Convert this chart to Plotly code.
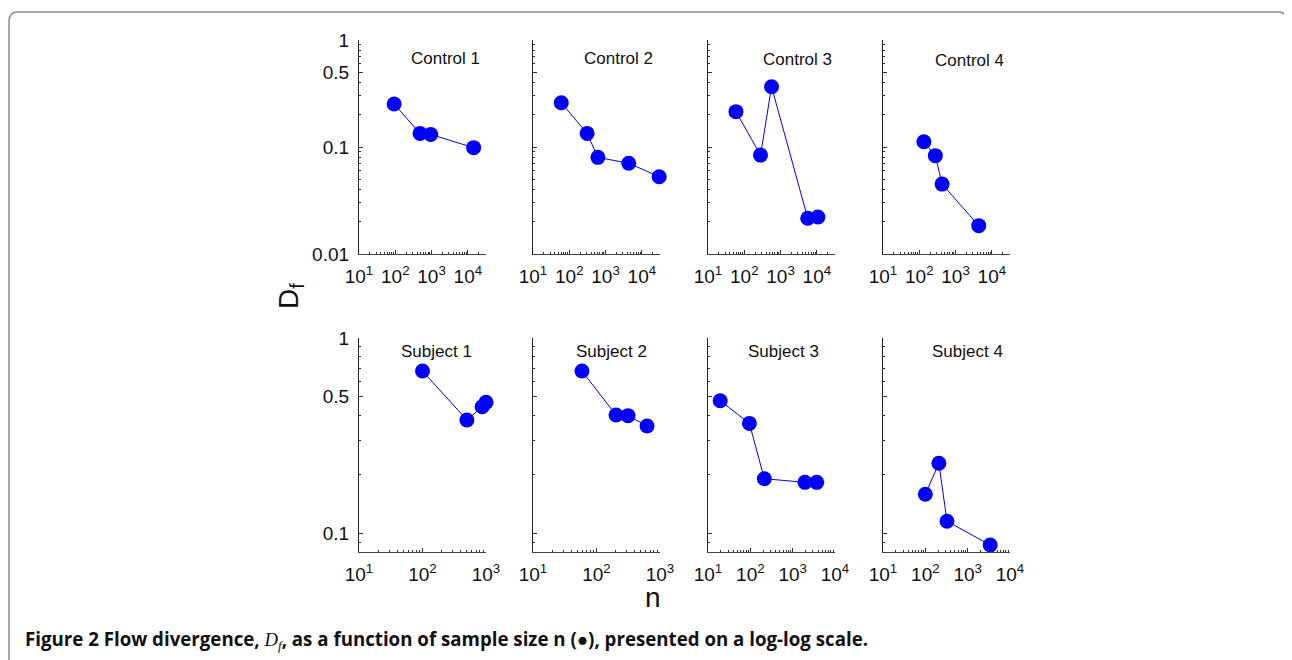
import plotly.graph_objects as go

# ---------------- data ----------------
panel_titles = ["Control 1", "Control 2", "Control 3", "Control 4",
                "Subject 1", "Subject 2", "Subject 3", "Subject 4"]

control1_n = [93, 480, 950, 14400]
control1_df = [0.252, 0.134, 0.131, 0.0986]
control2_n = [60, 310, 615, 4350, 30000]
control2_df = [0.259, 0.134, 0.080, 0.0704, 0.0528]
control3_n = [59, 280, 565, 5600, 10700]
control3_df = [0.214, 0.084, 0.366, 0.0216, 0.0222]
control4_n = [134, 277, 425, 4350]
control4_df = [0.112, 0.083, 0.045, 0.0184]
subject1_n = [100, 500, 870, 1000]
subject1_df = [0.677, 0.38, 0.444, 0.468]
subject2_n = [59, 203, 313, 625]
subject2_df = [0.677, 0.403, 0.40, 0.354]
subject3_n = [19.4, 95, 214, 1950, 3700]
subject3_df = [0.477, 0.365, 0.19, 0.182, 0.182]
subject4_n = [100, 209, 325, 3400]
subject4_df = [0.158, 0.228, 0.115, 0.0868]

series_n = [control1_n, control2_n, control3_n, control4_n,
            subject1_n, subject2_n, subject3_n, subject4_n]
series_df = [control1_df, control2_df, control3_df, control4_df,
             subject1_df, subject2_df, subject3_df, subject4_df]

top_y_ticks = [0.01, 0.1, 0.5, 1]
top_y_labels = ["0.01", "0.1", "0.5", "1"]
bottom_y_ticks = [0.1, 0.5, 1]
bottom_y_labels = ["0.1", "0.5", "1"]
x_ticks_4 = [10, 100, 1000, 10000]
x_labels_4 = ["10<sup>1</sup>", "10<sup>2</sup>", "10<sup>3</sup>", "10<sup>4</sup>"]
x_ticks_3 = [10, 100, 1000]
x_labels_3 = ["10<sup>1</sup>", "10<sup>2</sup>", "10<sup>3</sup>"]

# ---------------- layout geometry (window pixels) ----------------
OFF = 8                      # page body margin of the html page
W, H = 1292 - OFF, 660 - OFF
lefts = [359, 533, 708, 883]
pw = 127
rows = [(40, 254), (338, 552)]
x_ranges = [[1, 4.5]] * 4 + [[1, 3], [1, 3], [1, 4], [1, 4]]
y_ranges = [[-2, 0], [-1.097, 0]]
title_pos = [(445, 59), (618, 59), (797, 60), (969, 61),
             (436, 351), (611, 351), (783, 352), (967, 352)]

def px(x):
    return (x - OFF) / W

def py(y):
    return 1 - (y - OFF) / H

minor_x = [m * 10 ** k for k in range(1, 5) for m in range(2, 10)]
minor_y = [m * 10 ** k for k in range(-2, 0) for m in range(2, 10)]

fig = go.Figure()
layout = {}
BLUE = "rgb(0,0,255)"
TICKFONT = dict(family="Liberation Sans, Arial, sans-serif", size=19, color="#111")

for i in range(8):
    r = i // 4
    c = i % 4
    ax = "" if i == 0 else str(i + 1)
    fig.add_trace(go.Scatter(
        x=series_n[i], y=series_df[i], mode="lines+markers",
        line=dict(color=BLUE, width=1),
        marker=dict(color=BLUE, size=15, line=dict(width=0)),
        xaxis="x" + ax, yaxis="y" + ax, cliponaxis=False, showlegend=False,
    ))
    x0 = lefts[c]
    top, bot = rows[r]
    if r == 0 or c >= 2:
        xt, xl = x_ticks_4, x_labels_4
    else:
        xt, xl = x_ticks_3, x_labels_3
    layout["xaxis" + ax] = dict(
        type="log", range=x_ranges[i], domain=[px(x0), px(x0 + pw)],
        anchor="y" + ax, showgrid=False, zeroline=False, automargin=False,
        showline=True, linecolor="#444", linewidth=1.2,
        ticks="inside", ticklen=4, tickcolor="#333",
        tickmode="array", tickvals=xt, ticktext=xl,
        tickfont=TICKFONT, ticklabelstandoff=5,
        minor=dict(ticks="inside", ticklen=2, tickcolor="#333",
                   tickmode="array", tickvals=minor_x, showgrid=False),
        fixedrange=True,
    )
    yt, yl = (top_y_ticks, top_y_labels) if r == 0 else (bottom_y_ticks, bottom_y_labels)
    layout["yaxis" + ax] = dict(
        type="log", range=y_ranges[r], domain=[py(bot), py(top)],
        anchor="x" + ax, showgrid=False, zeroline=False, automargin=False,
        showline=True, linecolor="#222", linewidth=1.2,
        ticks="inside", ticklen=4, tickcolor="#333",
        tickmode="array", tickvals=yt, ticktext=yl,
        showticklabels=(c == 0), tickfont=TICKFONT, ticklabelstandoff=5,
        minor=dict(ticks="inside", ticklen=2, tickcolor="#333",
                   tickmode="array", tickvals=minor_y, showgrid=False),
        fixedrange=True,
    )

annotations = []
for i, t in enumerate(panel_titles):
    tx, ty = title_pos[i]
    annotations.append(dict(
        text=t, x=px(tx), y=py(ty), xref="paper", yref="paper",
        xanchor="center", yanchor="middle", showarrow=False,
        font=dict(family="Liberation Sans, Arial, sans-serif", size=17, color="#111"),
    ))

# axis titles
annotations.append(dict(
    text="D<sub>f</sub>", x=px(290), y=py(296), xref="paper", yref="paper",
    xanchor="center", yanchor="middle", showarrow=False, textangle=-90,
    font=dict(family="Liberation Sans, Arial, sans-serif", size=28, color="#111"),
))
annotations.append(dict(
    text="n", x=px(653), y=py(597), xref="paper", yref="paper",
    xanchor="center", yanchor="middle", showarrow=False,
    font=dict(family="Liberation Sans, Arial, sans-serif", size=28, color="#111"),
))

# caption
caption = ("<b>Figure 2 Flow divergence, </b>"
           "<span style='font-family:Liberation Serif, serif'><i>D<sub>f</sub></i></span>"
           "<b>, as a function of sample size n (\u25cf), "
           "presented on a log-log scale.</b>")
annotations.append(dict(
    text=caption, x=px(23), y=py(639), xref="paper", yref="paper",
    xanchor="left", yanchor="middle", showarrow=False, align="left",
    font=dict(family="Open Sans, Noto Sans, sans-serif", size=18.7, color="#111"),
))

# rounded frame (top corners rounded, open at the bottom)
fx0, fx1, fy0, fyb, rad = 9, 1287, 12, 720, 9
path = (f"M {px(fx0)},{py(fyb)} L {px(fx0)},{py(fy0 + rad)} "
        f"Q {px(fx0)},{py(fy0)} {px(fx0 + rad)},{py(fy0)} "
        f"L {px(fx1 - rad)},{py(fy0)} "
        f"Q {px(fx1)},{py(fy0)} {px(fx1)},{py(fy0 + rad)} "
        f"L {px(fx1)},{py(fyb)}")
shapes = [dict(type="path", path=path, xref="paper", yref="paper",
               line=dict(color="#8a8a8a", width=1.5))]

fig.update_layout(
    width=W, height=H, autosize=False,
    margin=dict(l=0, r=0, t=0, b=0, pad=0, autoexpand=False),
    paper_bgcolor="white", plot_bgcolor="white",
    annotations=annotations, shapes=shapes, showlegend=False,
    **layout,
)

fig.write_html("out.html", include_plotlyjs=True, config={"displayModeBar": False})
